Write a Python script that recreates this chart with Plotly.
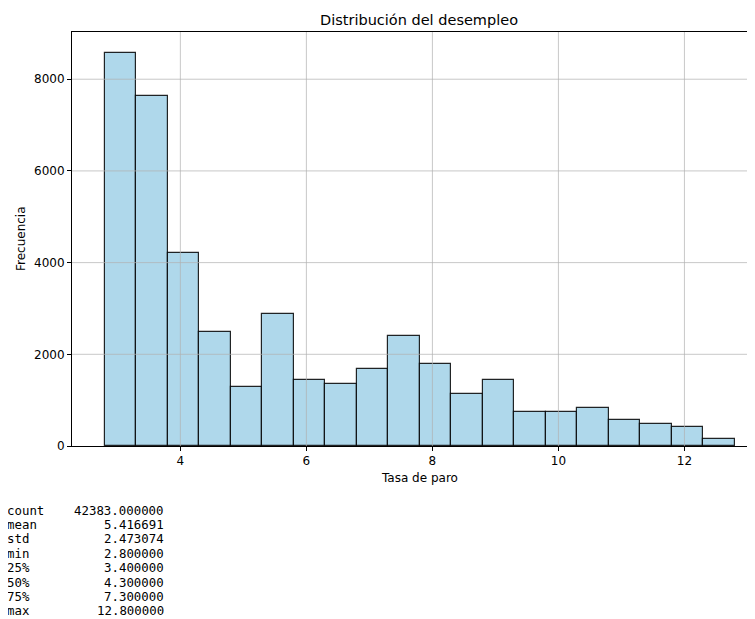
import plotly.graph_objects as go

# ---- data ----
bin_start = 2.8
bin_width = 0.5
counts = [8580, 7645, 4210, 2495, 1280, 2880, 1435, 1360, 1680, 2405,
          1790, 1140, 1435, 735, 735, 830, 560, 485, 420, 146]
stat_names = ["count", "mean", "std", "min", "25%", "50%", "75%", "max"]
stat_values = ["42383.000000", "5.416691", "2.473074", "2.800000",
               "3.400000", "4.300000", "7.300000", "12.800000"]
x_ticks = [4, 6, 8, 10, 12]
y_ticks = [0, 2000, 4000, 6000, 8000]

centers = [bin_start + bin_width * (i + 0.5) for i in range(len(counts))]

# ---- layout geometry (page pixels; the page body adds an 8px offset) ----
OFF = 8
PAGE_W, PAGE_H = 755, 619
W, H = PAGE_W - OFF, PAGE_H - OFF
L, R, T, B = 72, 755, 32, 446  # plot area in page pixels
X0, X1 = 2.28, 13.12
Y0, Y1 = 0, 9030


def px(x):
    return (x - L) / (R - L)


def py(y):
    return (B - y) / (B - T)


fig = go.Figure()
fig.add_trace(go.Bar(
    x=centers, y=counts, width=bin_width,
    marker=dict(color="#afd8eb",
                line=dict(color="rgba(0,0,0,0.85)", width=1.2)),
    hoverinfo="x+y",
))

font_main = "DejaVu Sans, Verdana, sans-serif"
grid_col = "rgba(176,176,176,0.7)"
fig.update_layout(
    width=W, height=H,
    margin=dict(l=L - OFF, r=W - (R - OFF), t=T - OFF, b=H - (B - OFF), pad=0),
    paper_bgcolor="white", plot_bgcolor="white",
    showlegend=False, bargap=0,
    font=dict(family=font_main, size=12, color="black"),
    xaxis=dict(range=[X0, X1], tickvals=x_ticks, ticks="outside",
               ticklen=4, tickwidth=1, tickcolor="black",
               showline=True, linecolor="black", linewidth=1, mirror=True,
               showgrid=False, zeroline=False, tickfont=dict(size=12)),
    yaxis=dict(range=[Y0, Y1], tickvals=y_ticks, ticks="outside",
               ticklen=4, tickwidth=1, tickcolor="black",
               showline=True, linecolor="black", linewidth=1, mirror=False,
               showgrid=False, zeroline=False, tickfont=dict(size=12)),
)

# grid lines drawn above the bars (as in the reference)
shapes = []
for xv in x_ticks:
    shapes.append(dict(type="line", xref="x", yref="paper", x0=xv, x1=xv,
                       y0=0, y1=1, layer="above",
                       line=dict(color=grid_col, width=1)))
for yv in y_ticks[1:]:
    shapes.append(dict(type="line", xref="paper", yref="y", x0=0, x1=1,
                       y0=yv, y1=yv, layer="above",
                       line=dict(color=grid_col, width=1)))
fig.update_layout(shapes=shapes)

ann = []
ann.append(dict(text="Distribución del desempleo", x=px(419), y=py(20),
                xref="paper", yref="paper", xanchor="center", yanchor="middle",
                showarrow=False, font=dict(size=14.5, family=font_main)))
ann.append(dict(text="Tasa de paro", x=px(419), y=py(478),
                xref="paper", yref="paper", xanchor="center", yanchor="middle",
                showarrow=False, font=dict(size=12, family=font_main)))
ann.append(dict(text="Frecuencia", x=px(21), y=py(239), textangle=-90,
                xref="paper", yref="paper", xanchor="center", yanchor="middle",
                showarrow=False, font=dict(size=12, family=font_main)))

mono = "DejaVu Sans Mono, monospace"
for i, (n, v) in enumerate(zip(stat_names, stat_values)):
    yy = 510 + i * 14.4
    ann.append(dict(text=n, x=px(5), y=py(yy), xref="paper", yref="paper",
                    xanchor="left", yanchor="middle", showarrow=False,
                    font=dict(size=12.4, family=mono, color="black")))
    ann.append(dict(text=v, x=px(166), y=py(yy), xref="paper", yref="paper",
                    xanchor="right", yanchor="middle", showarrow=False,
                    font=dict(size=12.4, family=mono, color="black")))

fig.update_layout(annotations=ann)
fig.write_html("out.html")
